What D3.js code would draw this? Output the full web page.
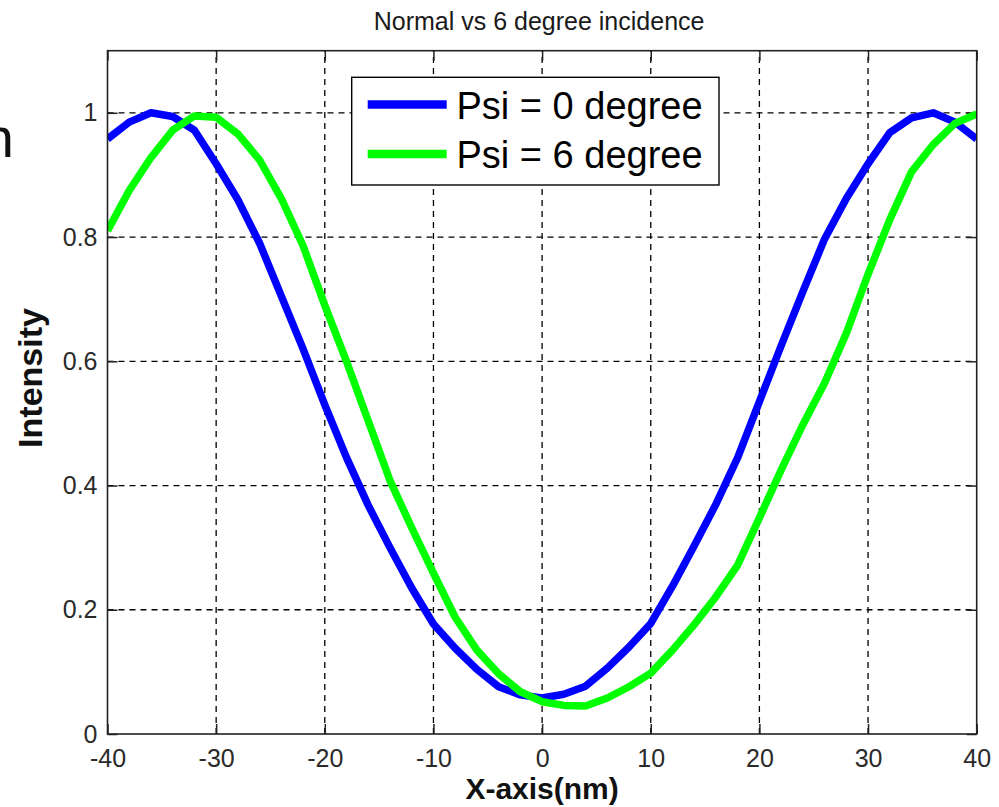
<!DOCTYPE html>
<html>
<head>
<meta charset="utf-8">
<script src="https://cdn.jsdelivr.net/npm/d3@7"></script>
<style>
  html, body { margin: 0; padding: 0; background: #ffffff; }
  svg { display: block; }
  text { font-family: "Liberation Sans", Arial, sans-serif; }
</style>
</head>
<body>
<svg id="chart" width="999" height="807"></svg>
<script>
// ---------- data ----------
const xValues = [-40,-38,-36,-34,-32,-30,-28,-26,-24,-22,-20,-18,-16,-14,-12,-10,-8,-6,-4,-2,0,
                 2,4,6,8,10,12,14,16,18,20,22,24,26,28,30,32,34,36,38,40];
const psi0 = [0.958,0.985,1.000,0.994,0.972,0.918,0.860,0.790,0.705,0.620,0.530,0.445,0.368,0.300,0.235,0.177,0.138,0.104,0.076,0.063,0.058,
              0.064,0.077,0.106,0.140,0.178,0.238,0.303,0.370,0.445,0.535,0.625,0.712,0.797,0.862,0.918,0.968,0.992,1.000,0.985,0.958];
const psi6 = [0.810,0.875,0.928,0.972,0.995,0.993,0.966,0.924,0.862,0.786,0.690,0.600,0.504,0.408,0.332,0.259,0.188,0.135,0.097,0.068,0.052,
              0.046,0.045,0.058,0.076,0.098,0.135,0.176,0.221,0.272,0.348,0.425,0.498,0.565,0.645,0.740,0.828,0.905,0.949,0.983,0.998];
const seriesNames = ["Psi = 0 degree", "Psi = 6 degree"];
const seriesColors = ["#0000ff", "#00ff00"];
const xTicks = [-40,-30,-20,-10,0,10,20,30,40];
const yTicks = [0,0.2,0.4,0.6,0.8,1];
const titleText = "Normal vs 6 degree incidence";
const xLabel = "X-axis(nm)";
const yLabel = "Intensity";

// ---------- layout ----------
const svg = d3.select("#chart");
const L = 107.5, R = 976.7, T = 50.7, B = 734;
const x = d3.scaleLinear().domain([-40, 40]).range([L, R]);
const y = d3.scaleLinear().domain([0, 1.1]).range([B, T]);

// stray cropped letter at far left (as in the reference)
svg.append("text").attr("x", 14).attr("y", 157).attr("text-anchor", "end")
  .attr("font-size", 56).attr("fill", "#111").text("n");

// title
svg.append("text").attr("x", (L + R) / 2 - 3).attr("y", 30).attr("text-anchor", "middle")
  .attr("font-size", 25).attr("fill", "#1a1a1a").text(titleText);

// grid
const grid = svg.append("g").attr("stroke", "#000").attr("stroke-width", 1.3).attr("stroke-dasharray", "6,5");
grid.selectAll(".gx").data(xTicks.filter(d => d > -40 && d < 40)).join("line")
  .attr("x1", d => x(d)).attr("x2", d => x(d)).attr("y1", B).attr("y2", T);
grid.selectAll(".gy").data(yTicks.filter(d => d > 0)).join("line")
  .attr("y1", d => y(d)).attr("y2", d => y(d)).attr("x1", L).attr("x2", R);

// axes (ticks inside)
const fmt = d => String(d);
const axB = svg.append("g").attr("transform", `translate(0,${B})`)
  .call(d3.axisBottom(x).tickValues(xTicks).tickSize(-10).tickPadding(15).tickFormat(fmt));
const axL = svg.append("g").attr("transform", `translate(${L},0)`)
  .call(d3.axisLeft(y).tickValues(yTicks).tickSize(-10).tickPadding(10).tickFormat(fmt));
const axT = svg.append("g").attr("transform", `translate(0,${T})`)
  .call(d3.axisTop(x).tickValues(xTicks).tickSize(-10).tickFormat(""));
const axR = svg.append("g").attr("transform", `translate(${R},0)`)
  .call(d3.axisRight(y).tickValues(yTicks).tickSize(-10).tickFormat(""));
[axB, axL, axT, axR].forEach(a => {
  a.select(".domain").remove();
  a.selectAll(".tick line").attr("stroke", "#222").attr("stroke-width", 1.5);
  a.selectAll(".tick text").attr("font-size", 25).attr("fill", "#2a2a2a")
    .attr("font-family", "'Liberation Sans', Arial, sans-serif");
});

// clip
svg.append("clipPath").attr("id", "clip").append("rect")
  .attr("x", L).attr("y", T).attr("width", R - L).attr("height", B - T);

// curves
const line = d3.line().x(d => x(d[0])).y(d => y(d[1]));
const series = [psi0, psi6];
svg.append("g").attr("clip-path", "url(#clip)")
  .selectAll("path").data(series).join("path")
  .attr("d", s => line(xValues.map((xv, i) => [xv, s[i]])))
  .attr("fill", "none")
  .attr("stroke", (s, i) => seriesColors[i])
  .attr("stroke-width", 7.5)
  .attr("stroke-linejoin", "round")
  .attr("stroke-linecap", "butt");

// frame
svg.append("rect").attr("x", L).attr("y", T).attr("width", R - L).attr("height", B - T)
  .attr("fill", "none").attr("stroke", "#222").attr("stroke-width", 1.6);

// legend
const lg = svg.append("g");
lg.append("rect").attr("x", 351.7).attr("y", 77.3).attr("width", 719 - 351.7).attr("height", 185 - 77.3)
  .attr("fill", "#fff").attr("stroke", "#000").attr("stroke-width", 1.4);
const lgRows = [104.5, 154];
seriesNames.forEach((name, i) => {
  lg.append("line").attr("x1", 367.7).attr("x2", 446.7).attr("y1", lgRows[i]).attr("y2", lgRows[i])
    .attr("stroke", seriesColors[i]).attr("stroke-width", 8.5);
  lg.append("text").attr("x", 456.5).attr("y", lgRows[i] + 14).attr("font-size", 38).attr("fill", "#000")
    .text(name);
});

// axis labels
svg.append("text").attr("x", (L + R) / 2).attr("y", 799).attr("text-anchor", "middle")
  .attr("font-size", 30).attr("font-weight", "bold").attr("fill", "#111").text(xLabel);
svg.append("text").attr("transform", `translate(42,${378}) rotate(-90)`).attr("text-anchor", "middle")
  .attr("font-size", 34).attr("font-weight", "bold").attr("fill", "#111").text(yLabel);
</script>
</body>
</html>
